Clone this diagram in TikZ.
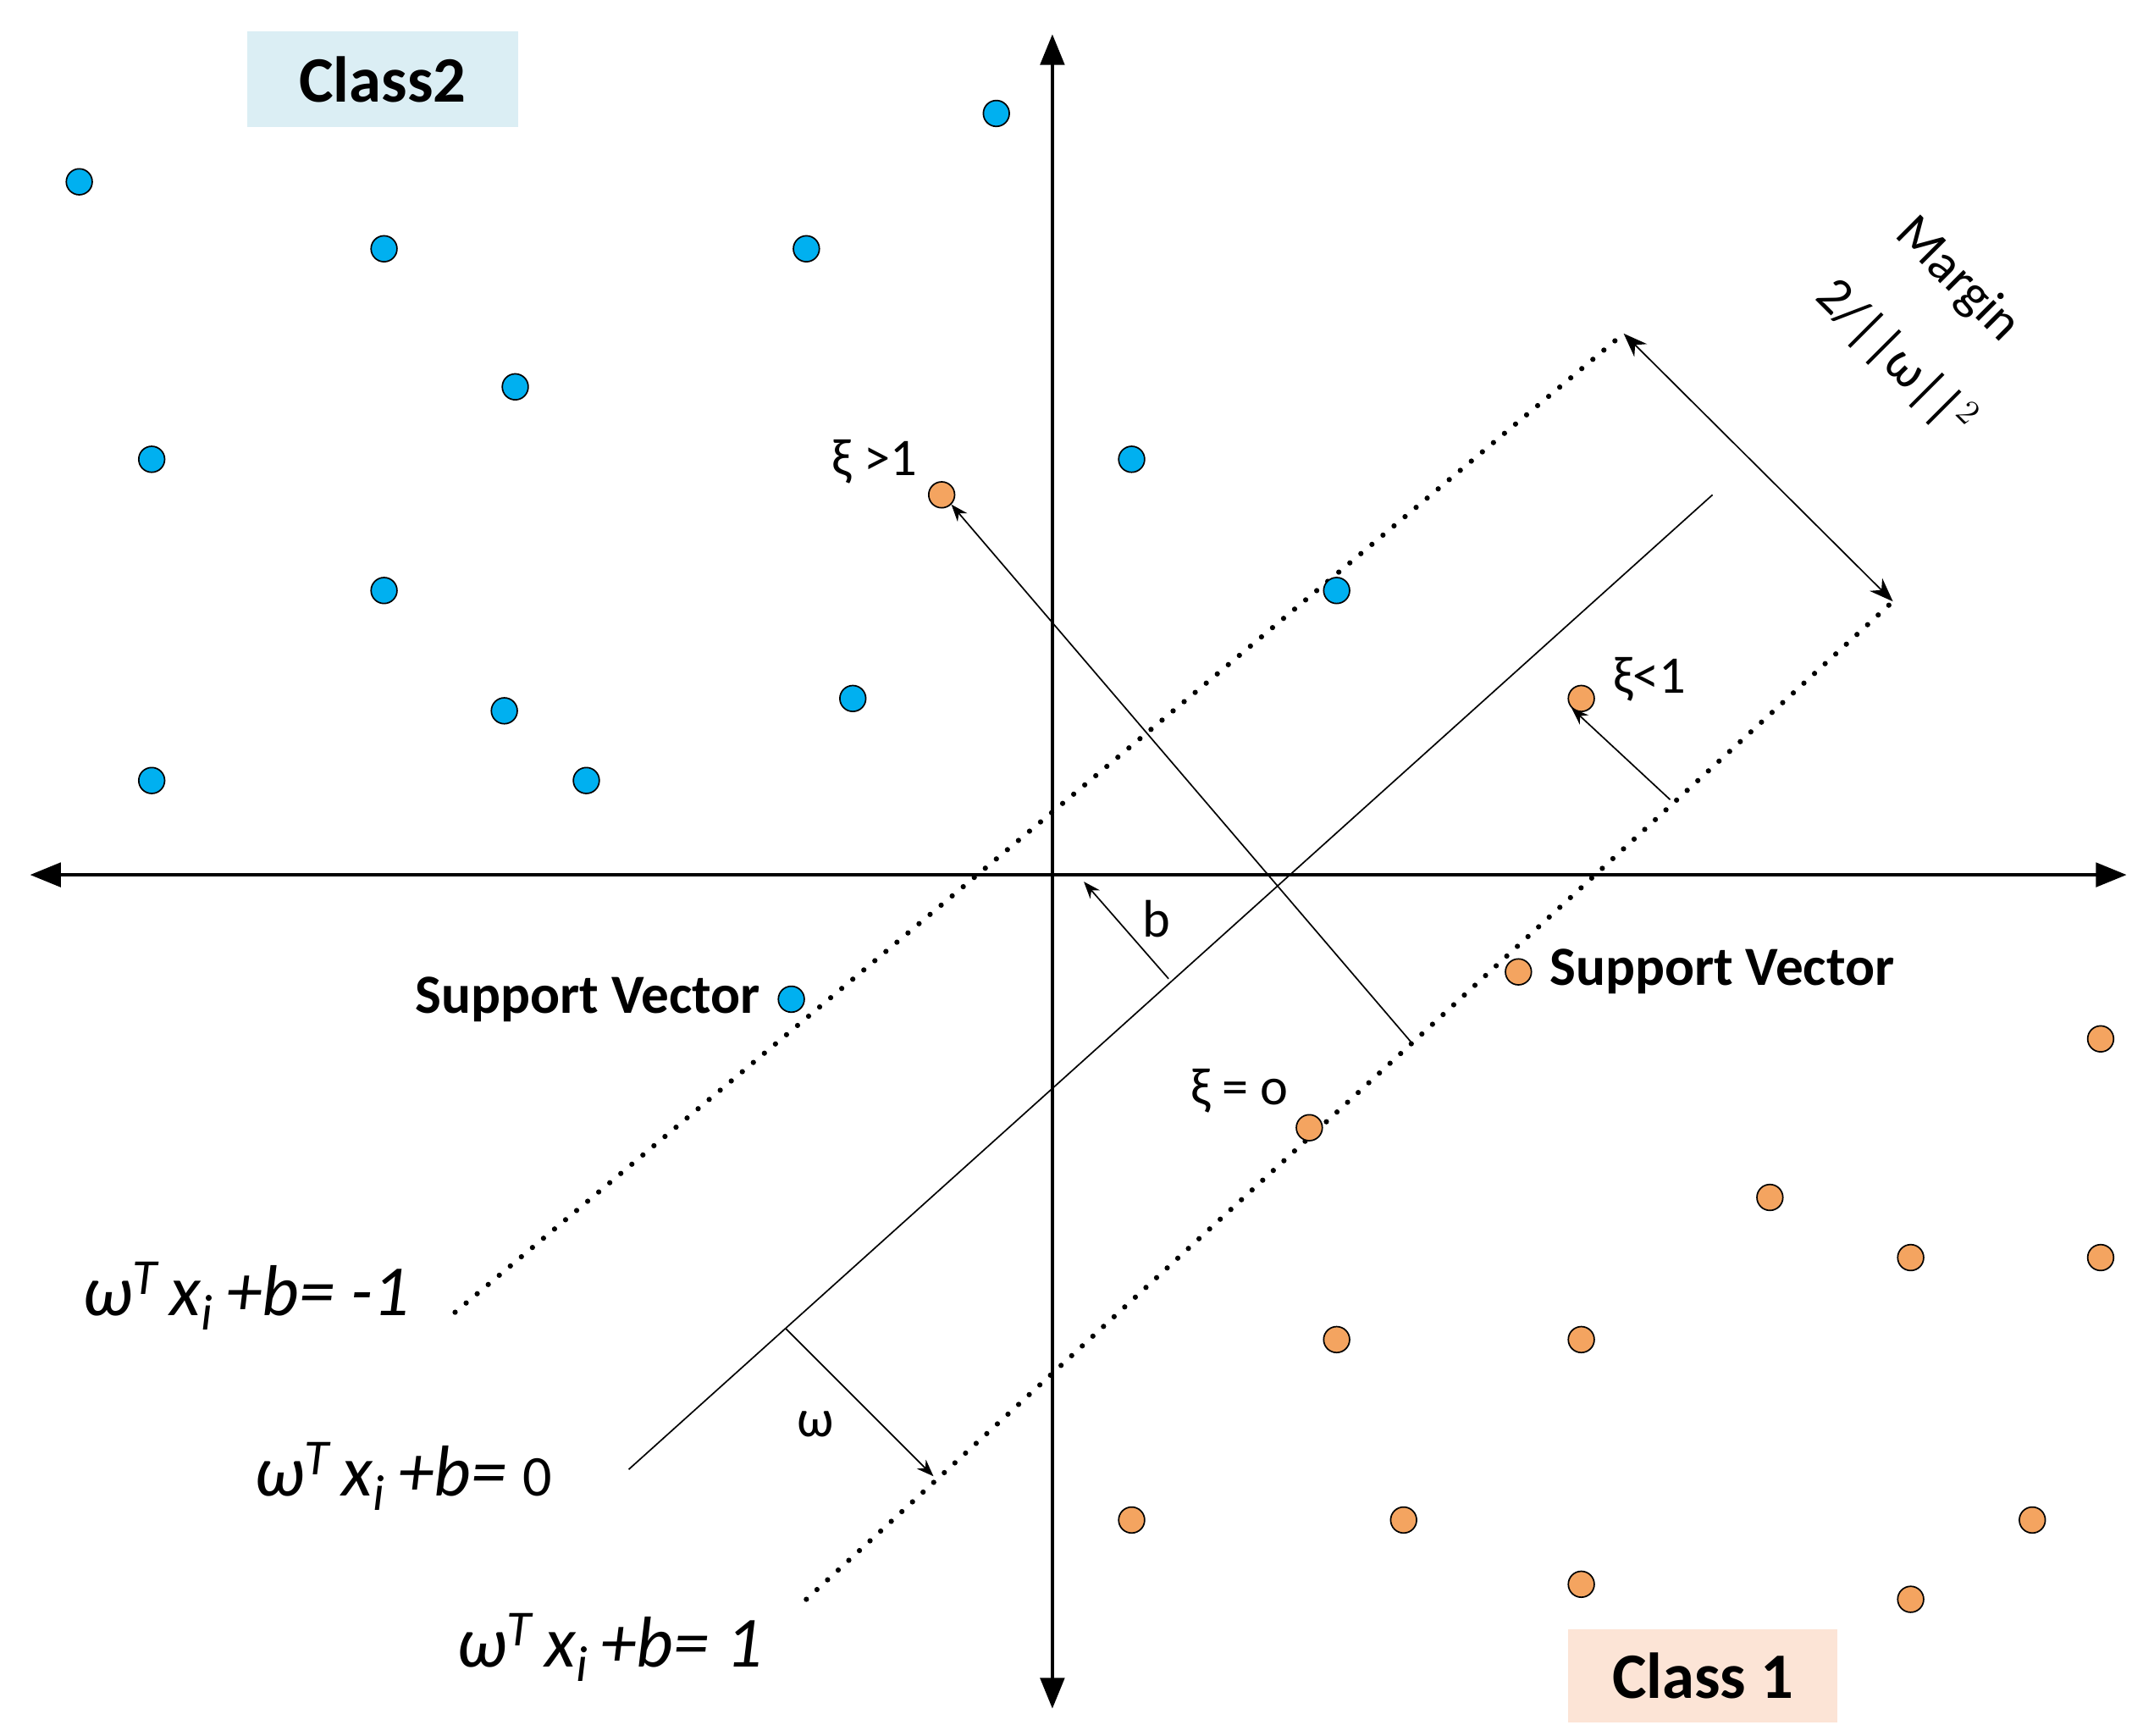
\documentclass[tikz,border=0pt]{standalone}
\usepackage{fontspec}
\setmainfont{Carlito}
\usetikzlibrary{arrows.meta}
\definecolor{bl}{RGB}{0,176,240}
\definecolor{orr}{RGB}{244,164,96}
\begin{document}
\begin{tikzpicture}[x=0.02cm,y=-0.02cm,
 bp/.style={circle,draw=black,fill=bl,minimum size=0.38cm,inner sep=0,line width=0.6pt},
 op/.style={circle,draw=black,fill=orr,minimum size=0.38cm,inner sep=0,line width=0.6pt},
 ax/.style={line width=1.6pt,{Triangle[length=0.45cm,width=0.35cm]}-{Triangle[length=0.45cm,width=0.35cm]}},
 dt/.style={line width=2.2pt,dash pattern=on 0pt off 6pt,line cap=round},
 thin/.style={line width=0.6pt},
 sa/.style={line width=0.6pt,-{Stealth[length=0.25cm]}},
 lab/.style={font=\fontsize{22}{24}\selectfont},
 sv/.style={font=\fontsize{23}{25}\selectfont\bfseries},
 eq/.style={font=\fontsize{30}{32}\selectfont}]
\useasboundingbox (0,0) rectangle (1568,1270);
\coordinate (L) at (22,640); \coordinate (R) at (1556,640);
\coordinate (T) at (770,25); \coordinate (B) at (770,1250);
\draw[ax] (L) -- (R); \draw[ax] (T) -- (B);
\coordinate (u1) at (333,960); \coordinate (u2) at (1188,244);
\coordinate (l1) at (590,1170); \coordinate (l2) at (1385,440);
\coordinate (m1) at (460,1075); \coordinate (m2) at (1253,362);
\draw[dt] (u1) -- (u2); \draw[dt] (l1) -- (l2); \draw[thin] (m1) -- (m2);
\draw[thin,{Stealth[length=0.35cm]}-{Stealth[length=0.35cm]}] (u2) -- (l2);
\foreach \n/\p in {b1/{58,133},b2/{281,182},b3/{590,182},b4/{729,83},b5/{377,283},b6/{111,336},b7/{828,336},b8/{281,432},b9/{978,432},b10/{369,520},b11/{624,511},b12/{111,571},b13/{429,571},b14/{579,731}}
  \node[bp] (\n) at (\p) {};
\foreach \n/\p in {o1/{689,362},o2/{1157,511},o3/{1111,711},o4/{958,825},o5/{1537,760},o6/{1295,876},o7/{1398,920},o8/{1537,920},o9/{978,980},o10/{1157,980},o11/{828,1112},o12/{1027,1112},o13/{1487,1112},o14/{1157,1159},o15/{1398,1170}}
  \node[op] (\n) at (\p) {};
\coordinate (xa) at (1033,763); \draw[sa] (xa) -- (o1.south east);
\coordinate (xb) at (1222,585); \draw[sa] (xb) -- (o2.south west);
\coordinate (ba) at (855,716); \coordinate (bb) at (793,645); \draw[sa] (ba) -- (bb);
\coordinate (wa) at (575,972); \coordinate (wb) at (683,1080); \draw[sa] (wa) -- (wb);
\node[fill={rgb,255:red,219;green,238;blue,244},minimum width=3.96cm,minimum height=1.4cm,font=\fontsize{27}{29}\selectfont\bfseries] (c2) at (280,58) {Class2};
\node[fill={rgb,255:red,252;green,228;blue,214},minimum width=3.94cm,minimum height=1.36cm,font=\fontsize{27}{29}\selectfont\bfseries] (c1) at (1246,1226) {Class 1};
\node[lab,rotate=-45] (mg) at (1432,205) {Margin};
\node[lab,rotate=-45] (mw) at (1387,262) {2/||ω||$^2$};
\node[lab] (t1) at (640,338) {ξ >1};
\node[lab] (t2) at (1207,497) {ξ<1};
\node[lab] (t3) at (907,798) {ξ = o};
\node[lab] (t4) at (846,672) {b};
\node[lab] (t5) at (597,1042) {ω};
\node[sv] (s1) at (430,731) {Support Vector};
\node[sv] (s2) at (1260,711) {Support Vector};
\node[eq] (e1) at (180,948) {\itshape ω\textsuperscript{T}\,x\textsubscript{i}\,+b= -1};
\node[eq] (e2) at (295,1080) {\itshape ω\textsuperscript{T}\,x\textsubscript{i}\,+b= \upshape\fontsize{24}{26}\selectfont 0};
\node[eq] (e3) at (446,1205) {\itshape ω\textsuperscript{T}\,x\textsubscript{i}\,+b= 1};
\end{tikzpicture}
\end{document}
